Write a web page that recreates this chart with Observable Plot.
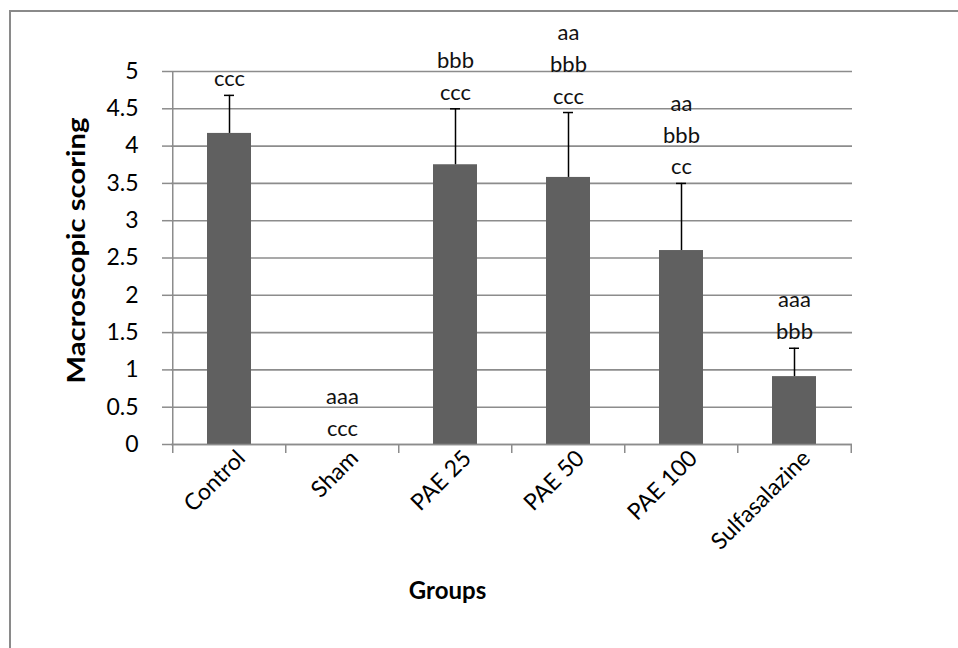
<!DOCTYPE html>
<html>
<head>
<meta charset="utf-8">
<script src="https://cdn.jsdelivr.net/npm/d3@7"></script>
<script src="https://cdn.jsdelivr.net/npm/@observablehq/plot@0.6"></script>
<style>
  html, body { margin: 0; padding: 0; background: #fff; }
  #wrap { position: relative; width: 958px; height: 648px; overflow: hidden; background: #fff; }
  #border { position: absolute; left: 9px; top: 10px; width: 1200px; height: 900px; border: 2px solid #8a8a8a; box-sizing: border-box; }
  #chart { position: absolute; left: 0; top: 0; }
</style>
</head>
<body>
<div id="wrap"><div id="border"></div><div id="chart"></div></div>
<script>
const groups = ["Control", "Sham", "PAE 25", "PAE 50", "PAE 100", "Sulfasalazine"];
const means = [4.17, 0, 3.75, 3.58, 2.60, 0.91];
const errors = [0.51, 0, 0.75, 0.87, 0.90, 0.38];
const labels = ["ccc", "aaa\nccc", "bbb\nccc", "aa\nbbb\nccc", "aa\nbbb\ncc", "aaa\nbbb"];
const yTicks = [0, 0.5, 1, 1.5, 2, 2.5, 3, 3.5, 4, 4.5, 5];
const yTitle = "Macroscopic scoring";
const xTitle = "Groups";

const data = groups.map((g, i) => ({group: g, mean: means[i], err: errors[i], label: labels[i]}));

const W = 958, H = 648;
const mL = 171, mR = 106, mT = 71, mB = 204;
const step = (W - mL - mR) / groups.length;
const gray = "#8c8c8c";
const font = "Lato, 'Open Sans', sans-serif";

const chart = Plot.plot({
  width: W,
  height: H,
  marginLeft: mL,
  marginRight: mR,
  marginTop: mT,
  marginBottom: mB,
  style: {fontFamily: font, fontSize: "22px", color: "#000", background: "transparent"},
  x: {domain: groups, paddingInner: 0.61, paddingOuter: 0.305, label: null},
  y: {domain: [0, 5], label: null},
  marks: [
    Plot.gridY(yTicks, {stroke: gray, strokeOpacity: 1, strokeWidth: 1.6}),
    Plot.barY(data, {x: "group", y: "mean", fill: "#606060"}),
    Plot.ruleY([0], {stroke: gray, strokeWidth: 1.6}),
    Plot.ruleX([groups[0]], {y1: yTicks[0], y2: yTicks[yTicks.length - 1], dx: -step / 2, stroke: gray, strokeWidth: 1.5}),
    Plot.axisY({ticks: yTicks, tickFormat: d => String(d), tickSize: 9, tickPadding: 24, stroke: gray, strokeWidth: 1.5, strokeOpacity: 1, fontSize: 23, label: null}),
    Plot.axisX({tickSize: 9, tickFormat: () => "", dx: -step / 2, stroke: gray, strokeWidth: 1.5, strokeOpacity: 1, label: null}),
    Plot.axisX({ticks: [groups[groups.length - 1]], tickSize: 9, tickFormat: () => "", dx: step / 2, stroke: gray, strokeWidth: 1.5, strokeOpacity: 1, label: null}),
    Plot.axisX({tickSize: 0, tickRotate: -45, tickPadding: 10, dx: 12, fontSize: 23, label: null}),
    Plot.ruleX(data.filter(d => d.err > 0), {x: "group", y1: "mean", y2: d => d.mean + d.err, stroke: "#000", strokeWidth: 1.5}),
    Plot.tickY(data.filter(d => d.err > 0), {x: "group", y: d => d.mean + d.err, stroke: "#000", strokeWidth: 1.5, insetLeft: 17, insetRight: 17}),
    Plot.text(data, {x: "group", y: d => d.mean + d.err, text: "label", lineAnchor: "bottom", lineHeight: 1.45, dy: -9, fontSize: 22, fill: "#111"}),
    Plot.text([yTitle], {frameAnchor: "left", textAnchor: "middle", lineAnchor: "middle", rotate: -90, dx: 77 - mL, dy: 250 - (mT + (H - mT - mB) / 2), fontWeight: "bold", fontSize: 24, fill: "#000", className: "ytitle"}),
    Plot.text([xTitle], {frameAnchor: "bottom", textAnchor: "middle", lineAnchor: "middle", dx: 447 - (mL + (W - mL - mR) / 2), dy: 147, fontWeight: "bold", fontSize: 24, fill: "#000"})
  ]
});
document.getElementById("chart").appendChild(chart);
// stretch the y title along its length to match the reference's proportion
d3.select(chart).selectAll(".ytitle text").attr("textLength", 266).attr("lengthAdjust", "spacingAndGlyphs");
</script>
</body>
</html>
